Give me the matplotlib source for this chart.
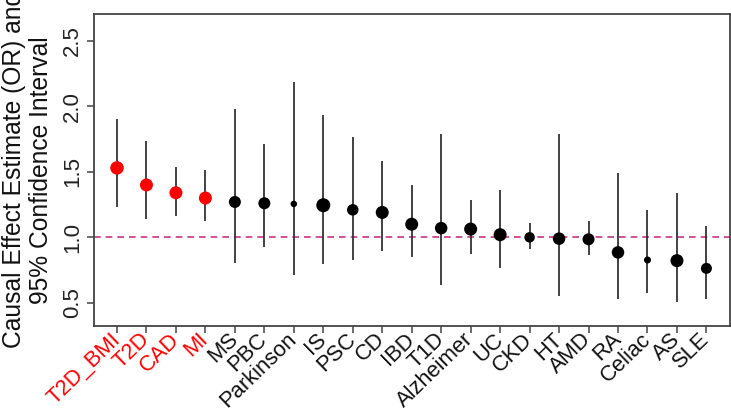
import matplotlib
matplotlib.use("Agg")
from matplotlib import pyplot as plt

plt.rcParams['font.family'] = ['Liberation Sans', 'DejaVu Sans']

# data
traits = ['T2D_BMI', 'T2D', 'CAD', 'MI', 'MS', 'PBC', 'Parkinson', 'IS', 'PSC',
          'CD', 'IBD', 'T1D', 'Alzheimer', 'UC', 'CKD', 'HT', 'AMD', 'RA',
          'Celiac', 'AS', 'SLE']
est = [1.53, 1.40, 1.34, 1.30, 1.27, 1.26, 1.255, 1.245, 1.21,
       1.19, 1.10, 1.07, 1.063, 1.02, 1.00, 0.99, 0.985, 0.885,
       0.827, 0.822, 0.763]
lower = [1.234, 1.14, 1.165, 1.124, 0.804, 0.926, 0.71, 0.796, 0.824,
         0.895, 0.85, 0.634, 0.875, 0.766, 0.911, 0.55, 0.865, 0.529,
         0.575, 0.506, 0.531]
upper = [1.90, 1.733, 1.539, 1.511, 1.98, 1.71, 2.186, 1.934, 1.766,
         1.58, 1.40, 1.786, 1.287, 1.359, 1.107, 1.786, 1.124, 1.493,
         1.211, 1.338, 1.086]
# marker diameter (pixels at 100 dpi), reflects precision of estimate
dot_px = [13.5, 13, 13, 13, 12, 12, 6.5, 14, 11.5,
          13, 13, 12.5, 13, 13, 10.5, 12.5, 12, 12.5, 7, 13, 11]
n_red = 4

fig = plt.figure(figsize=(7.31, 4.12), dpi=100)
ax = fig.add_axes([94/731, 1-326/412, 636/731, 312/412])

xs = list(range(len(traits)))
cols = ['#ff0000' if i < n_red else '#000000' for i in xs]

ax.axhline(1.0, color='#cc3380', lw=1.2, ls=(0, (4, 3)), zorder=1)
ax.vlines(xs, lower, upper, color='#333333', lw=1.3, zorder=2)
sizes = [(d * 72 / 100) ** 2 for d in dot_px]
ax.scatter(xs, est, s=sizes, c=cols, edgecolors='none', zorder=3)

ax.set_xlim(-0.78, 20.8)
ax.set_ylim(0.323, 2.705)
ax.set_yticks([0.5, 1.0, 1.5, 2.0, 2.5])
ax.set_yticklabels(['0.5', '1.0', '1.5', '2.0', '2.5'], rotation=90,
                   va='center', fontsize=16, color='#222222')
ax.set_xticks(xs)
ax.set_xticklabels(traits, rotation=44, ha='right', va='center',
                   rotation_mode='anchor', fontsize=15.8)
for i, lab in enumerate(ax.get_xticklabels()):
    lab.set_color('#ff0000' if i < n_red else '#111111')

ax.tick_params(axis='both', length=5, width=1.1, color='#444444')
ax.tick_params(axis='y', pad=3)
ax.tick_params(axis='x', pad=2.5)
for sp in ax.spines.values():
    sp.set_color('#444444')
    sp.set_linewidth(1.3)

fig.text(27.5/731, 1-170/412, 'Causal Effect Estimate (OR) and\n95% Confidence Interval',
         rotation=90, ha='center', va='center', multialignment='center',
         fontsize=17.7, color='#111111', linespacing=1.17)

fig.savefig('out.png', dpi=100)
